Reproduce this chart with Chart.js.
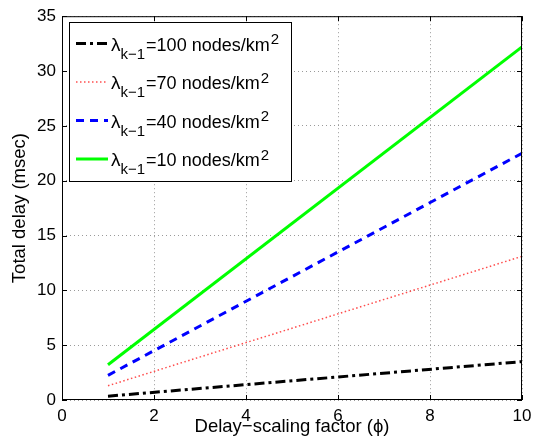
<!DOCTYPE html>
<html>
<head>
<meta charset="utf-8">
<script src="https://cdn.jsdelivr.net/npm/chart.js@4/dist/chart.umd.min.js"></script>
<style>
  html, body { margin: 0; padding: 0; background: #fff; }
  #wrap { width: 543px; height: 441px; }
</style>
</head>
<body>
<div id="wrap"><canvas id="delayChart" width="543" height="441"></canvas></div>
<script>
// values (phi = delay-scaling factor)
const phi = [1, 10];
const delay100 = [0.35, 3.5];
const delay70 = [1.3, 13.1];
const delay40 = [2.25, 22.5];
const delay10 = [3.22, 32.2];
const densities = [100, 70, 40, 10];
const xTicks = [0, 2, 4, 6, 8, 10];
const yTicks = [0, 5, 10, 15, 20, 25, 30, 35];

const FONT = '"Liberation Sans", Arial, Helvetica, sans-serif';

function toPoints(ys) {
  return phi.map((x, i) => ({ x: x, y: ys[i] }));
}

const series = [
  { data: delay100, color: '#000000', width: 3, dash: [10, 4, 3, 4] },
  { data: delay70, color: '#ff4d4d', width: 1.5, dash: [1.5, 2.5] },
  { data: delay40, color: '#0000ff', width: 3, dash: [8, 6] },
  { data: delay10, color: '#00ff00', width: 3, dash: [] }
];

// box, inward ticks and the tex-style legend
const matlabBox = {
  id: 'matlabBox',
  afterDraw(chart) {
    const ctx = chart.ctx;
    const a = chart.chartArea;
    const xs = chart.scales.x, ys = chart.scales.y;
    ctx.save();
    ctx.strokeStyle = '#000';
    ctx.lineWidth = 1;
    ctx.setLineDash([]);
    ctx.strokeRect(a.left + 0.5, a.top + 0.5, a.right - a.left - 1, a.bottom - a.top - 1);
    ctx.beginPath();
    xTicks.forEach(t => {
      const px = Math.round(xs.getPixelForValue(t)) + 0.5;
      ctx.moveTo(px, a.bottom); ctx.lineTo(px, a.bottom - 5);
      ctx.moveTo(px, a.top); ctx.lineTo(px, a.top + 5);
    });
    yTicks.forEach(t => {
      const py = Math.round(ys.getPixelForValue(t)) + 0.5;
      ctx.moveTo(a.left, py); ctx.lineTo(a.left + 5, py);
      ctx.moveTo(a.right, py); ctx.lineTo(a.right - 5, py);
    });
    ctx.stroke();

    // legend
    const lx = 69.5, ly = 22.5, lw = 222, lh = 159;
    ctx.fillStyle = '#fff';
    ctx.fillRect(lx, ly, lw, lh);
    ctx.strokeRect(lx, ly, lw, lh);
    series.forEach((s, i) => {
      const base = 50.5 + i * 38.5;
      const cy = base - 7;
      ctx.beginPath();
      ctx.strokeStyle = s.color;
      ctx.lineWidth = s.width;
      ctx.setLineDash(s.dash);
      ctx.moveTo(76, cy); ctx.lineTo(108, cy);
      ctx.stroke();
      ctx.setLineDash([]);
      ctx.fillStyle = '#000';
      ctx.textBaseline = 'alphabetic';
      ctx.textAlign = 'left';
      ctx.font = '19px ' + FONT;
      ctx.fillText('\u03bb', 111, base);
      const lamW = ctx.measureText('\u03bb').width;
      ctx.font = '15px ' + FONT;
      ctx.fillText('k\u22121', 111 + lamW, base + 8);
      const subW = ctx.measureText('k\u22121').width;
      ctx.font = '18px ' + FONT;
      const main = '=' + densities[i] + ' nodes/km';
      const mx = 111 + lamW + subW + 1;
      ctx.fillText(main, mx, base);
      const mw = ctx.measureText(main).width;
      ctx.font = '15px ' + FONT;
      ctx.fillText('2', mx + mw + 1, base - 6.5);
    });
    ctx.restore();
  }
};

new Chart(document.getElementById('delayChart'), {
  type: 'line',
  data: {
    datasets: series.map((s, i) => ({
      label: 'lambda=' + densities[i],
      data: toPoints(s.data),
      borderColor: s.color,
      borderWidth: s.width,
      borderDash: s.dash,
      pointRadius: 0,
      tension: 0,
      fill: false
    }))
  },
  options: {
    responsive: false,
    animation: false,
    layout: { padding: { top: 13, right: 21, left: 0, bottom: 0 } },
    plugins: { legend: { display: false }, tooltip: { enabled: false } },
    scales: {
      x: {
        type: 'linear',
        min: 0, max: 10,
        afterBuildTicks: sc => { sc.ticks = xTicks.map(v => ({ value: v })); },
        afterFit: sc => { sc.height = 41; },
        grid: { color: '#9a9a9a', lineWidth: 1, drawTicks: false },
        border: { display: false, dash: [1, 3] },
        ticks: { color: '#000', font: { family: FONT, size: 17 }, padding: 6, maxRotation: 0 },
        title: { display: true, text: 'Delay\u2212scaling factor (\u03d5)', color: '#000',
                 font: { family: FONT, size: 18.5 }, padding: { top: 2.5, bottom: 2.5 } }
      },
      y: {
        type: 'linear',
        min: 0, max: 35,
        afterBuildTicks: sc => { sc.ticks = yTicks.map(v => ({ value: v })); },
        afterFit: sc => { sc.width = 62; },
        grid: { color: '#9a9a9a', lineWidth: 1, drawTicks: false },
        border: { display: false, dash: [1, 3] },
        ticks: { color: '#000', font: { family: FONT, size: 17 }, padding: 6 },
        title: { display: true, text: 'Total delay (msec)', color: '#000',
                 font: { family: FONT, size: 18.5 }, padding: { top: 9, bottom: 0 } }
      }
    }
  },
  plugins: [matlabBox]
});
</script>
</body>
</html>
